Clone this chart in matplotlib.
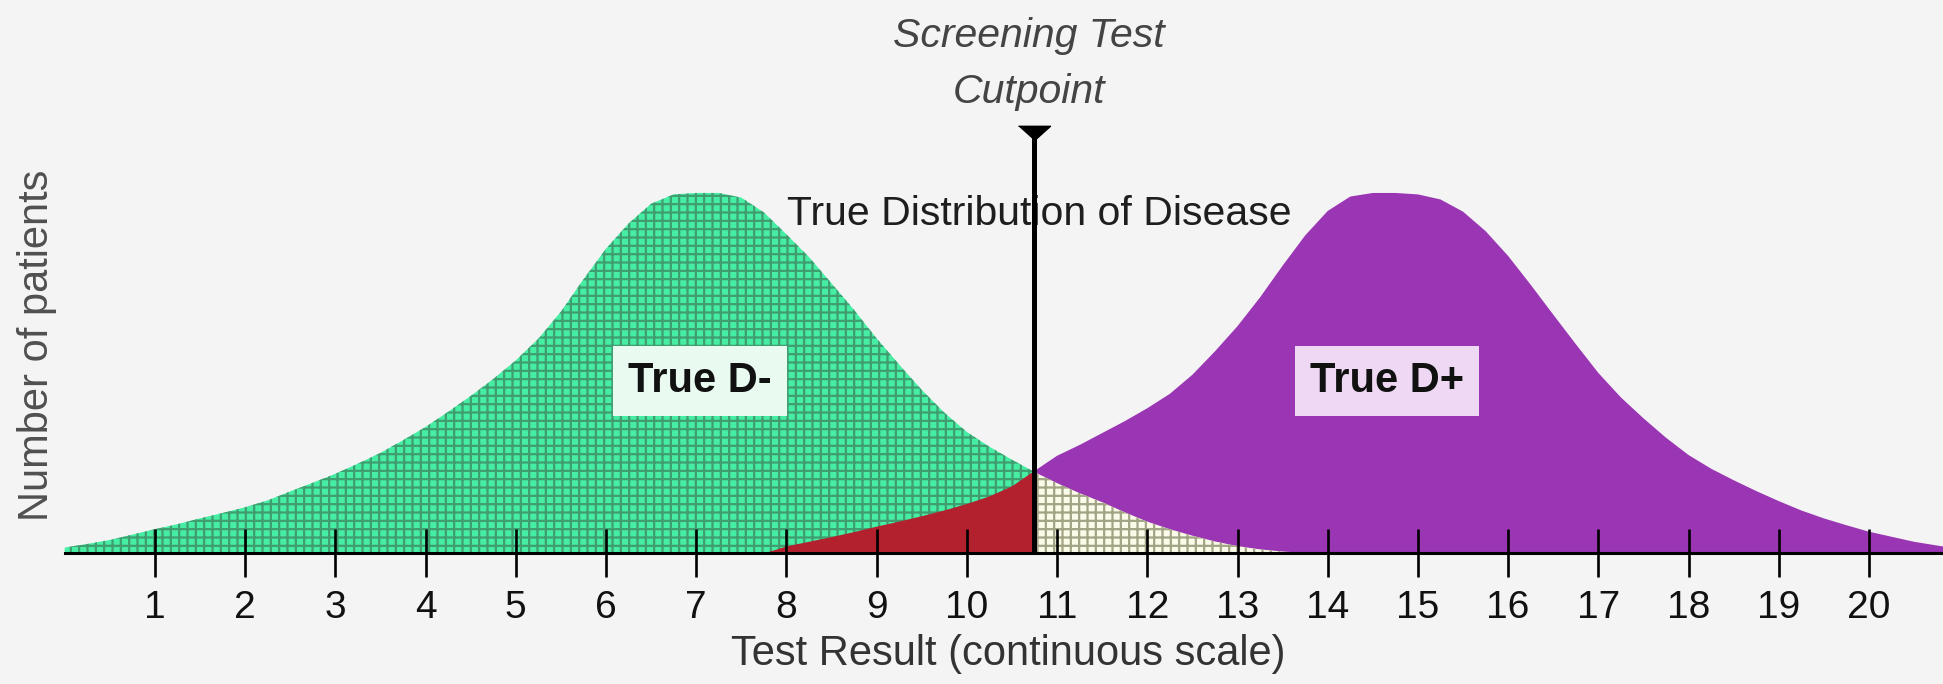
import matplotlib
matplotlib.use("Agg")
import matplotlib.pyplot as plt
import numpy as np

plt.rcParams.update({
    "font.family": ["Liberation Sans", "DejaVu Sans"],
    "hatch.linewidth": 1.6,
})

# --- valores (altura relativa, pico = 100) ---
# distribucion D- (sanos)
neg_x = [0.0, 0.25, 0.5, 0.75, 1.0, 1.25, 1.5, 1.75, 2.0, 2.25, 2.5, 2.75,
         3.0, 3.25, 3.5, 3.75, 4.0, 4.25, 4.5, 4.75, 5.0, 5.25, 5.5, 5.75,
         6.0, 6.25, 6.5, 6.75, 7.0, 7.25, 7.5, 7.75, 8.0, 8.25, 8.5, 8.75,
         9.0, 9.25, 9.5, 9.75, 10.0, 10.25, 10.5, 10.74, 11.0, 11.25, 11.5,
         11.75, 12.0, 12.25, 12.5, 12.75, 13.0, 13.25, 13.5, 13.75]
neg_y = [1.5, 2.5, 3.6, 5.1, 6.6, 8.0, 9.6, 11.1, 12.7, 14.6, 17.1, 19.5,
         22.0, 24.8, 27.8, 31.3, 35.0, 39.2, 43.6, 48.3, 53.5, 59.5, 67.0, 76.0,
         84.5, 91.5, 97.0, 99.6, 100.0, 100.0, 98.7, 94.6, 88.5, 82.2, 74.9, 67.5,
         59.6, 52.3, 45.3, 39.0, 33.6, 29.5, 25.9, 22.6, 19.4, 16.6, 14.1,
         11.3, 8.7, 6.6, 4.8, 3.2, 1.9, 1.0, 0.4, 0.0]

# distribucion D+ (enfermos)
pos_x = [7.77, 8.0, 8.25, 8.5, 8.75, 9.0, 9.25, 9.5, 9.75, 10.0, 10.25, 10.5,
         10.74, 11.0, 11.25, 11.5, 11.75, 12.0, 12.25, 12.5, 12.75, 13.0,
         13.25, 13.5, 13.75, 14.0, 14.25, 14.5, 14.75, 15.0, 15.25, 15.5,
         15.75, 16.0, 16.25, 16.5, 16.75, 17.0, 17.25, 17.5, 17.75, 18.0,
         18.25, 18.5, 18.75, 19.0, 19.25, 19.5, 19.75, 20.0, 20.25, 20.5, 20.82]
pos_y = [0.0, 1.8, 3.1, 4.4, 5.8, 7.3, 8.7, 10.2, 11.8, 13.6, 15.7, 18.5,
         22.6, 27.0, 30.0, 33.3, 36.6, 40.2, 44.2, 49.5, 56.0, 63.0,
         71.0, 79.8, 88.2, 95.0, 99.0, 100.0, 100.0, 99.6, 98.2, 94.8,
         89.4, 82.5, 74.5, 66.2, 58.0, 50.0, 43.2, 37.4, 32.0, 27.2,
         23.4, 20.2, 17.2, 14.4, 11.8, 9.6, 7.7, 5.9, 4.5, 3.1, 1.8]

ticks = list(range(1, 21))
CUT = 10.74

BG = "#f4f4f4"
C_NEG = "#46eea4"
C_NEG_H = "#3f9d70"
C_TAIL = "#fbfbe9"
C_TAIL_H = "#a3a385"
C_POS = "#9a35b4"
C_FN = "#b3212f"


def area(ax, x, y, face, hatch=None, hcolor=None, z=1):
    x = np.asarray(x)
    y = np.asarray(y)
    px = np.r_[x[0], x, x[-1]]
    py = np.r_[0, y, 0]
    ax.fill(px, py, facecolor=face, edgecolor=hcolor if hatch else face,
            hatch=hatch, linewidth=0, zorder=z)


fig = plt.figure(figsize=(19.43, 6.84), dpi=100, facecolor=BG)
ax = fig.add_axes([0, 0, 1, 1], facecolor=BG)
ax.set_xlim(-0.717, 20.82)
ax.set_ylim(-36.4, 153.6)

nx, ny = np.array(neg_x), np.array(neg_y)
px_, py_ = np.array(pos_x), np.array(pos_y)
l = nx <= CUT
r = nx >= CUT
area(ax, nx[l], ny[l], C_NEG, "++", C_NEG_H, z=1)
area(ax, nx[r], ny[r], C_TAIL, "++", C_TAIL_H, z=1.6)
l = px_ <= CUT
r = px_ >= CUT
area(ax, px_[l], py_[l], C_FN, z=1.5)
area(ax, px_[r], py_[r], C_POS, z=1.2)

# linea de corte
ax.vlines(CUT, 0, 118.6, color="black", lw=3.6, zorder=4)
tri = [(-1, 0.45), (1, 0.45), (0, -0.45)]
ax.plot([CUT], [116.7], marker=tri, markersize=23, color="black",
        linestyle="none", zorder=4)

ax.text(10.69, 140.6, "Screening Test", ha="center", va="baseline",
        fontsize=29.5, style="italic", color="#444444")
ax.text(10.69, 125.0, "Cutpoint", ha="center", va="baseline",
        fontsize=29.5, style="italic", color="#444444")
ax.text(8.01, 91.1, "True Distribution of Disease", ha="left", va="baseline",
        fontsize=29.5, color="#1e1e1e", zorder=3)

ax.text(7.04, 47.9, "True D-", ha="center", va="center", fontsize=30,
        fontweight="bold", color="#111111", zorder=5,
        bbox=dict(boxstyle="square,pad=0.36", fc="#e9fbf1", ec="none"))
ax.text(14.66, 47.9, "True D+", ha="center", va="center", fontsize=30,
        fontweight="bold", color="#111111", zorder=5,
        bbox=dict(boxstyle="square,pad=0.36", fc="#efd8f3", ec="none"))

# eje x
for s in ("top", "right", "left"):
    ax.spines[s].set_visible(False)
ax.spines["bottom"].set_position(("data", 0))
ax.spines["bottom"].set_bounds(0, 20.82)
ax.spines["bottom"].set_linewidth(2.2)
ax.spines["bottom"].set_zorder(3)
ax.set_axisbelow(False)
ax.set_xticks(ticks)
ax.set_xticklabels([str(t) for t in ticks])
ax.set_yticks([])
ax.tick_params(axis="x", direction="inout", length=34, width=1.9, pad=10,
               labelsize=28, labelcolor="#111111", color="black")

fig.text(1008.5 / 1943, 1 - 654 / 684, "Test Result (continuous scale)",
         ha="center", va="center", fontsize=30, color="#333333")
fig.text(37 / 1943, 1 - 345 / 684, "Number of patients", ha="center",
         va="center", rotation=90, fontsize=30, color="#505050")

fig.savefig("out.png", dpi=100, facecolor=BG)
